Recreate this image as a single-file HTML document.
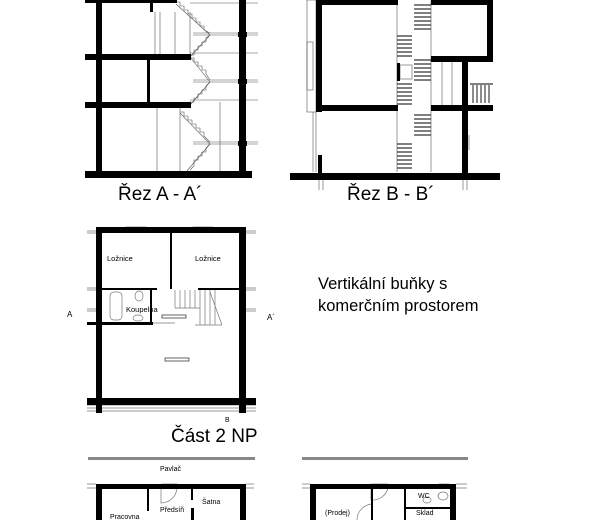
<!DOCTYPE html>
<html><head><meta charset="utf-8"><style>
html,body{margin:0;padding:0;background:#fff;width:600px;height:520px;overflow:hidden}
svg{display:block}
text{font-family:"Liberation Sans",Arial,sans-serif;fill:#000}
</style></head><body>
<svg width="600" height="520" viewBox="0 0 600 520" xmlns="http://www.w3.org/2000/svg">
<!-- ===== Section A-A ===== -->
<g stroke="#555" stroke-width="0.6" fill="none">
  <line x1="155" y1="12" x2="155" y2="55"/><line x1="160" y1="12" x2="160" y2="55"/>
  <line x1="175" y1="12" x2="175" y2="55"/><line x1="190" y1="12" x2="190" y2="55"/>
  <line x1="157" y1="108" x2="157" y2="172"/><line x1="180" y1="108" x2="180" y2="172"/>
  <line x1="220" y1="102" x2="220" y2="172"/>
  <line x1="190" y1="3" x2="258" y2="3"/><line x1="193" y1="33" x2="258" y2="33"/>
  <line x1="193" y1="35" x2="258" y2="35"/><line x1="193" y1="80" x2="258" y2="80"/>
  <line x1="193" y1="82" x2="258" y2="82"/><line x1="193" y1="142" x2="258" y2="142"/>
  <line x1="193" y1="144" x2="258" y2="144"/>
  <line x1="190" y1="53" x2="258" y2="53"/><line x1="190" y1="100" x2="258" y2="100"/>
  <polyline points="176,2 180,2 180,6 184,6 184,10 188,10 188,14 192,14 192,18 196,18 196,22 200,22 200,26 204,26 204,30 210,33"/>
  <polyline points="210,35 206,38 206,42 202,42 202,46 198,46 198,50 194,50 194,55 190,55"/>
  <polyline points="190,58 194,58 194,62 198,62 198,66 202,66 202,70 206,70 206,74 210,80"/>
  <polyline points="210,82 206,86 206,90 202,90 202,94 198,94 198,98 194,98 194,102 190,102"/>
  <polyline points="180,112 184,112 184,116 188,116 188,120 192,120 192,124 196,124 196,128 200,128 200,132 204,132 204,136 210,142"/>
  <polyline points="210,144 206,148 206,152 202,152 202,156 198,156 198,160 194,160 194,166 190,170"/>
  <line x1="176" y1="4" x2="210" y2="35"/><line x1="190" y1="57" x2="210" y2="82"/>
  <line x1="180" y1="113" x2="210" y2="144"/><line x1="210" y1="35" x2="190" y2="57"/>
  <line x1="210" y1="82" x2="190" y2="105"/><line x1="210" y1="144" x2="186" y2="172"/>
</g>
<g fill="#000">
  <rect x="85" y="0" width="92" height="3"/>
  <rect x="150" y="0" width="3" height="12"/>
  <rect x="96" y="0" width="6" height="175"/>
  <rect x="239" y="0" width="7" height="175"/>
  <rect x="85" y="54" width="106" height="6"/>
  <rect x="85" y="102" width="106" height="6"/>
  <rect x="147" y="58" width="3" height="46"/>
  <rect x="85" y="171" width="167" height="7"/>
  <rect x="238" y="32" width="9" height="5"/><rect x="238" y="79" width="9" height="5"/><rect x="238" y="141" width="9" height="5"/>
</g>
<text x="118" y="200" font-size="19">Řez A - A´</text>

<!-- ===== Section B-B ===== -->
<g stroke="#555" stroke-width="0.6" fill="none">
  <rect x="307" y="0" width="9" height="112"/>
  <rect x="307" y="42" width="6" height="48"/>
  <line x1="313" y1="112" x2="313" y2="172"/><line x1="316" y1="112" x2="316" y2="172"/>
  <line x1="397" y1="0" x2="397" y2="172"/><line x1="431" y1="0" x2="431" y2="172"/>
  <line x1="442" y1="62" x2="442" y2="105"/><line x1="452" y1="62" x2="452" y2="105"/>
  <line x1="466" y1="135" x2="466" y2="150"/><line x1="469" y1="135" x2="469" y2="150"/>
  <line x1="319" y1="180" x2="319" y2="190"/><line x1="323" y1="180" x2="323" y2="190"/>
  <line x1="463" y1="180" x2="463" y2="190"/><line x1="467" y1="180" x2="467" y2="190"/>
  <rect x="400" y="65" width="12" height="14"/>
</g>
<g stroke="#000" stroke-width="0.9">
  <path d="M414 5H431M414 9H431M414 13H431M414 17H431M414 21H431M414 25H431M414 29H431"/>
  <path d="M397 36H412M397 40H412M397 44H412M397 48H412M397 52H412M397 56H412"/>
  <path d="M414 60H431M414 64H431M414 68H431M414 72H431M414 76H431M414 80H431"/>
  <path d="M397 84H412M397 88H412M397 92H412M397 96H412M397 100H412M397 104H412"/>
  <path d="M414 115H431M414 119H431M414 123H431M414 127H431M414 131H431M414 135H431"/>
  <path d="M397 144H412M397 148H412M397 152H412M397 156H412M397 160H412M397 164H412M397 168H412"/>
  <path d="M473 85V103M477 85V103M481 85V103M485 85V103M489 85V103"/>
  <path d="M470 84H493"/>
</g>
<g fill="#000">
  <rect x="316" y="0" width="82" height="5"/>
  <rect x="316" y="0" width="6" height="112"/>
  <rect x="316" y="105" width="82" height="6"/>
  <rect x="397" y="63" width="3" height="18"/>
  <rect x="431" y="0" width="62" height="5"/>
  <rect x="487" y="0" width="6" height="62"/>
  <rect x="431" y="56" width="62" height="6"/>
  <rect x="462" y="60" width="6" height="115"/>
  <rect x="431" y="105" width="62" height="6"/>
  <rect x="318" y="155" width="4" height="20"/>
  <rect x="290" y="173" width="210" height="7"/>
</g>
<text x="347" y="200" font-size="19">Řez B - B´</text>

<!-- ===== Plan 2 NP ===== -->
<g stroke="#777" stroke-width="0.7" fill="none">
  <path d="M87 231H96M87 233H96M246 231H256M246 233H256"/>
  <path d="M87 288H96M87 290H96M246 288H256M246 290H256"/>
  <path d="M87 309H96M87 311H96M246 309H256M246 311H256"/>
  <path d="M87 405H256M87 408H256M87 411H256"/>
  <path d="M87 399H96M246 399H256"/>
  <rect x="126" y="227" width="20" height="5"/><rect x="193" y="227" width="20" height="5"/>
  <path d="M175 290V308M180 290V308M185 290V308M190 290V308M195 290V308M200 290V325M205 290V325M210 290V325M215 290V325M175 308H200M210 292L222 325M195 325H222"/>
  <rect x="110" y="292" width="12" height="28" rx="4"/>
  <ellipse cx="139" cy="296" rx="4" ry="5"/><ellipse cx="138" cy="318" rx="5" ry="3"/>
  <line x1="153" y1="323" x2="175" y2="323"/>
</g>
<g fill="#000">
  <rect x="96" y="227" width="150" height="6"/>
  <rect x="96" y="227" width="6" height="186"/>
  <rect x="239" y="227" width="7" height="186"/>
  <rect x="87" y="398" width="169" height="7"/>
  <rect x="170" y="233" width="2" height="56"/>
  <rect x="102" y="288" width="55" height="2"/>
  <rect x="198" y="288" width="42" height="2"/>
  <rect x="87" y="322" width="66" height="3"/>
  <rect x="150" y="290" width="2" height="33"/>
</g>
<g stroke="#000" stroke-width="0.6" fill="none">
  <rect x="162" y="315" width="24" height="3"/><rect x="165" y="358" width="24" height="3"/>
</g>
<text x="107" y="261" font-size="7.5">Ložnice</text>
<text x="195" y="261" font-size="7.5">Ložnice</text>
<text x="126" y="312" font-size="7.5">Koupelna</text>
<text x="67" y="317" font-size="8">A</text>
<text x="267" y="320" font-size="8">A´</text>
<text x="225" y="422" font-size="7">B</text>
<text x="171" y="442" font-size="19">Část 2 NP</text>

<text x="318" y="289" font-size="16.5">Vertikální buňky s</text>
<text x="318" y="311" font-size="16.5">komerčním prostorem</text>

<!-- ===== Bottom plans ===== -->
<g fill="#888">
  <rect x="88" y="457" width="167" height="3"/>
  <rect x="302" y="457" width="166" height="3"/>
</g>
<text x="160" y="471" font-size="7">Pavlač</text>
<g stroke="#777" stroke-width="0.7" fill="none">
  <path d="M87 484H96M87 488H96M246 484H254M246 488H254M302 484H310M302 488H310M456 484H467M456 488H467"/>
  <rect x="114" y="485" width="20" height="3"/><rect x="162" y="484" width="15" height="4"/>
  <rect x="371" y="484" width="17" height="4"/><rect x="439" y="484" width="10" height="4"/>
  <path d="M161 488V503A16 16 0 0 0 177 488M371 488V500A16 16 0 0 0 388 488M373 504A16 16 0 0 0 357 520"/>
  <ellipse cx="427" cy="500" rx="4" ry="3"/><ellipse cx="443" cy="496" rx="5" ry="4"/>
</g>
<g fill="#000">
  <rect x="96" y="484" width="150" height="5"/>
  <rect x="96" y="484" width="6" height="36"/>
  <rect x="240" y="484" width="6" height="36"/>
  <rect x="147" y="489" width="2" height="22"/>
  <rect x="191" y="489" width="2" height="11"/><rect x="191" y="508" width="3" height="12"/>
  <rect x="310" y="484" width="146" height="5"/>
  <rect x="310" y="484" width="6" height="36"/>
  <rect x="450" y="484" width="6" height="36"/>
  <rect x="371" y="489" width="2" height="31"/>
  <rect x="404" y="489" width="2" height="31"/>
  <rect x="404" y="507" width="46" height="2"/>
</g>
<text x="202" y="504" font-size="7">Šatna</text>
<text x="160" y="512" font-size="7">Předsíň</text>
<text x="110" y="519" font-size="7">Pracovna</text>
<text x="325" y="515" font-size="7">(Prodej)</text>
<text x="418" y="498" font-size="7">WC</text>
<text x="416" y="515" font-size="7">Sklad</text>
</svg>
</body></html>
